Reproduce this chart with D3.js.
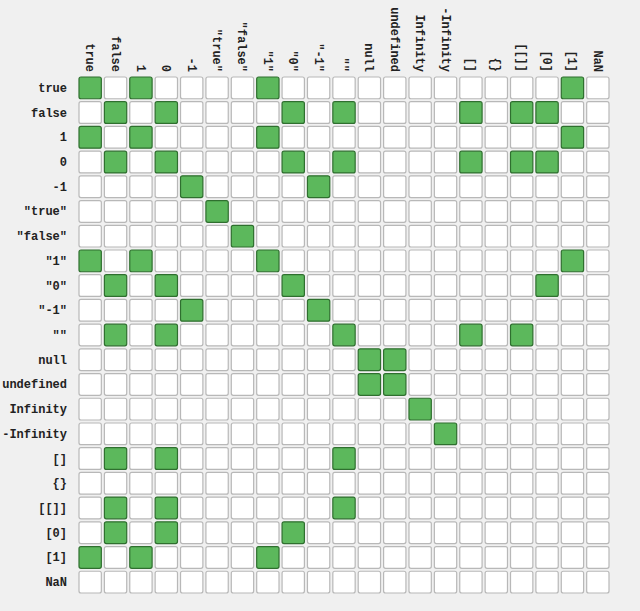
<!DOCTYPE html>
<html lang="en">
<head>
<meta charset="UTF-8">
<title>equality</title>
<script src="https://d3js.org/d3.v7.min.js"></script>
<style>
    body { margin: 0; background: #f0f0f0; }
    text { font-family: "Liberation Mono", "DejaVu Sans Mono", monospace; font-size: 12px; font-weight: bold; fill: #222; }
</style>
</head>
<body>
<script>
    const labels = ['true', 'false', '1', '0', '-1', '"true"', '"false"', '"1"', '"0"', '"-1"', '""',
        'null', 'undefined', 'Infinity', '-Infinity', '[]', '{}', '[[]]', '[0]', '[1]', 'NaN']
    // 1 = loosely equal (==), one string per row
    const rows = [
        '101000010000000000010',
        '010100001010000101100',
        '101000010000000000010',
        '010100001010000101100',
        '000010000100000000000',
        '000001000000000000000',
        '000000100000000000000',
        '101000010000000000010',
        '010100001000000000100',
        '000010000100000000000',
        '010100000010000101000',
        '000000000001100000000',
        '000000000001100000000',
        '000000000000010000000',
        '000000000000001000000',
        '010100000010000000000',
        '000000000000000000000',
        '010100000010000000000',
        '010100001000000000000',
        '101000010000000000000',
        '000000000000000000000'
    ]

    const width = 640, height = 611
    const x = d3.scaleBand().domain(d3.range(labels.length)).range([79, 609]).paddingInner(0.12)
    const y = d3.scaleBand().domain(d3.range(labels.length)).range([77, 593]).paddingInner(0.12)

    const svg = d3.select("body").append("svg")
        .attr("width", width)
        .attr("height", height)

    const cells = []
    rows.forEach(function (r, i) {
        r.split('').forEach(function (c, j) {
            cells.push({ i: i, j: j, v: c === '1' })
        })
    })

    svg.selectAll("rect")
        .data(cells)
        .enter()
        .append("rect")
        .attr("x", d => x(d.j))
        .attr("y", d => y(d.i))
        .attr("width", x.bandwidth())
        .attr("height", y.bandwidth())
        .attr("rx", 2)
        .attr("fill", d => d.v ? "#5cb85c" : "#ffffff")
        .attr("stroke", d => d.v ? "#2f6f2f" : "#b8b8b8")
        .attr("stroke-width", 1.2)

    svg.selectAll("text.row")
        .data(labels)
        .enter()
        .append("text")
        .attr("class", "row")
        .attr("x", 67)
        .attr("y", (d, i) => y(i) + y.bandwidth() / 2 + 4)
        .attr("text-anchor", "end")
        .text(d => d)

    svg.selectAll("text.col")
        .data(labels)
        .enter()
        .append("text")
        .attr("class", "col")
        .attr("transform", (d, i) => "translate(" + (x(i) + x.bandwidth() / 2 - 4) + ",72) rotate(90)")
        .attr("text-anchor", "end")
        .text(d => d)
</script>
</body>
</html>
